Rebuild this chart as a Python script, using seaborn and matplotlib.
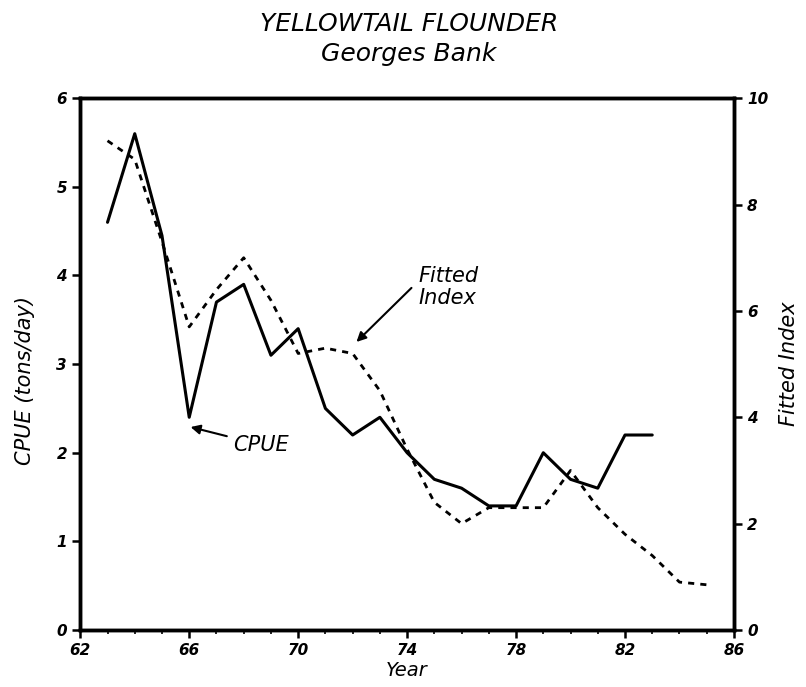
import numpy as np
import pandas as pd
import seaborn as sns
import matplotlib.pyplot as plt
from matplotlib.ticker import MultipleLocator

# datos
anios_cpue = [63, 64, 65, 66, 67, 68, 69, 70, 71, 72, 73, 74, 75, 76, 77, 78, 79, 80, 81, 82, 83]
cpue = [4.6, 5.6, 4.45, 2.4, 3.7, 3.9, 3.1, 3.4, 2.5, 2.2, 2.4, 2.0, 1.7, 1.6, 1.4, 1.4, 2.0, 1.7, 1.6, 2.2, 2.2]

anios_indice = [63, 64, 65, 66, 67, 68, 69, 70, 71, 72, 73, 74, 75, 76, 77, 78, 79, 80, 81, 82, 83, 84, 85]
indice = [9.2, 8.85, 7.3, 5.7, 6.4, 7.0, 6.2, 5.2, 5.3, 5.2, 4.5, 3.4, 2.4, 2.0, 2.3, 2.3, 2.3, 3.0, 2.3, 1.8, 1.4, 0.9, 0.85]

ticks_x = [62, 66, 70, 74, 78, 82, 86]

df_cpue = pd.DataFrame({'Year': anios_cpue, 'CPUE': cpue})
df_ind = pd.DataFrame({'Year': anios_indice, 'Indice': indice})

sns.set_style('ticks')
plt.rcParams['font.family'] = ['DejaVu Sans']
plt.rcParams['font.style'] = 'italic'
plt.rcParams['text.color'] = 'black'
plt.rcParams['axes.labelcolor'] = 'black'
plt.rcParams['xtick.color'] = 'black'
plt.rcParams['ytick.color'] = 'black'

fig = plt.figure(figsize=(8.06, 6.87), dpi=100)
ax = fig.add_axes([0.0996, 0.083, 0.811, 0.774])
ax2 = ax.twinx()

sns.lineplot(data=df_cpue, x='Year', y='CPUE', ax=ax, color='black', linewidth=2.2)
sns.lineplot(data=df_ind, x='Year', y='Indice', ax=ax2, color='black', linewidth=2.0,
             linestyle=(0, (2.2, 2.2)))

ax.set_xlim(62, 86)
ax.set_ylim(0, 6)
ax2.set_ylim(0, 10)
ax.set_xticks(ticks_x)
ax.xaxis.set_minor_locator(MultipleLocator(1))
ax.yaxis.set_major_locator(MultipleLocator(1))
ax2.yaxis.set_major_locator(MultipleLocator(2))

for a in (ax, ax2):
    for s in a.spines.values():
        s.set_linewidth(2.5)
        s.set_color('black')
    a.tick_params(which='major', length=6, width=1.8, labelsize=11, direction='out')
    a.tick_params(which='minor', length=3, width=1.2, direction='out')
    for lab in a.get_xticklabels() + a.get_yticklabels():
        lab.set_fontweight('bold')
        lab.set_fontstyle('italic')

ax.set_xlabel('Year', fontsize=14, fontstyle='italic', labelpad=2)
ax.set_ylabel('CPUE (tons/day)', fontsize=15, fontstyle='italic')
ax.yaxis.set_label_coords(-0.07, 0.47)
ax2.set_ylabel('Fitted Index', fontsize=15, fontstyle='italic', labelpad=8)

fig.text(0.507, 0.965, 'YELLOWTAIL FLOUNDER', ha='center', va='center', fontsize=18, fontstyle='italic')
fig.text(0.507, 0.922, 'Georges Bank', ha='center', va='center', fontsize=18, fontstyle='italic')

# anotaciones
ax.annotate('CPUE', xy=(66.05, 2.29), xytext=(67.6, 2.09), fontsize=15, fontstyle='italic',
            va='center', ha='left',
            arrowprops=dict(arrowstyle='-|>', color='black', lw=1.5, mutation_scale=14, shrinkB=0))
ax.annotate('', xy=(72.14, 3.25), xytext=(74.16, 3.86),
            arrowprops=dict(arrowstyle='-|>', color='black', lw=1.5, mutation_scale=14, shrinkB=0, shrinkA=0))
ax.text(74.43, 3.87, 'Fitted\nIndex', fontsize=15, fontstyle='italic', va='center', ha='left', linespacing=1.1)

fig.savefig('out.png', dpi=100)
